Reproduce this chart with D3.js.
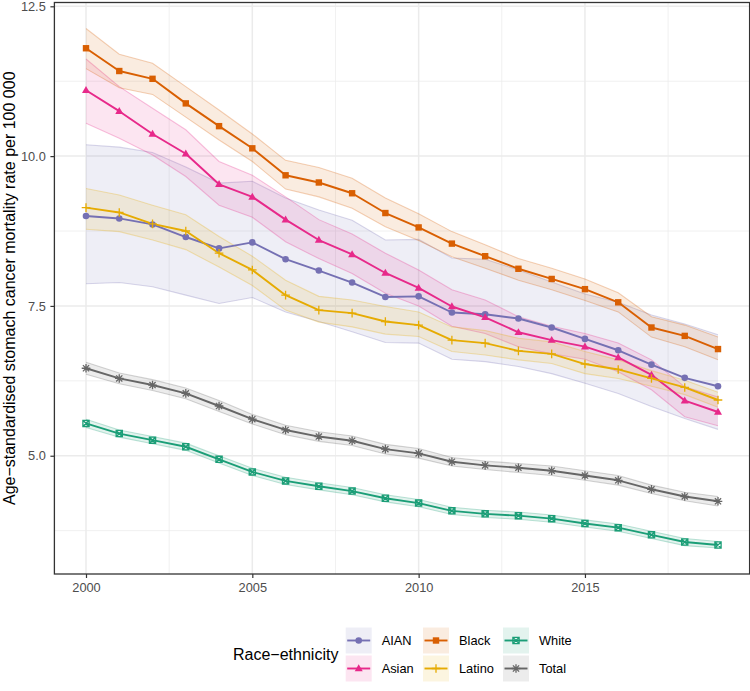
<!DOCTYPE html>
<html><head><meta charset="utf-8">
<script src="https://cdn.jsdelivr.net/npm/d3@7"></script>
<style>body{margin:0;background:#fff;} svg{display:block;font-family:"Liberation Sans",Arial,Helvetica,sans-serif;}</style>
</head><body><svg id="c" width="750" height="691"></svg>
<script>
// ---------- data ----------
const years = [2000,2001,2002,2003,2004,2005,2006,2007,2008,2009,2010,2011,2012,2013,2014,2015,2016,2017,2018,2019];
const groups = ["AIAN","Asian","Black","Latino","White","Total"];

const aian    = [9.00,8.96,8.86,8.65,8.46,8.56,8.28,8.09,7.89,7.65,7.66,7.39,7.36,7.29,7.14,6.95,6.76,6.52,6.30,6.16];
const aianLo  = [7.87,7.89,7.82,7.68,7.54,7.64,7.40,7.24,7.07,6.89,6.88,6.61,6.57,6.49,6.37,6.21,6.04,5.82,5.62,5.44];
const aianHi  = [10.19,10.15,10.06,9.82,9.55,9.58,9.30,9.10,8.93,8.60,8.61,8.30,8.28,8.10,7.90,7.70,7.56,7.35,7.20,7.02];

const asian   = [11.10,10.75,10.37,10.04,9.53,9.32,8.94,8.60,8.36,8.05,7.80,7.49,7.31,7.06,6.93,6.82,6.64,6.35,5.92,5.73];
const asianLo = [10.55,10.30,10.02,9.66,9.18,8.98,8.57,8.29,8.04,7.71,7.50,7.16,7.04,6.82,6.70,6.61,6.40,6.10,5.65,5.50];
const asianHi = [11.62,11.16,10.80,10.44,9.91,9.68,9.32,8.94,8.70,8.38,8.10,7.77,7.60,7.32,7.16,7.04,6.88,6.60,6.15,5.98];

const black   = [11.80,11.42,11.29,10.88,10.50,10.13,9.68,9.56,9.38,9.05,8.81,8.54,8.33,8.12,7.95,7.78,7.56,7.14,7.00,6.78];
const blackLo = [11.46,11.14,11.03,10.65,10.27,9.91,9.45,9.32,9.13,8.82,8.59,8.32,8.13,7.93,7.77,7.59,7.40,6.98,6.82,6.60];
const blackHi = [12.13,11.70,11.55,11.16,10.77,10.37,9.93,9.81,9.63,9.30,9.04,8.74,8.52,8.29,8.13,7.95,7.72,7.32,7.18,6.98];

const latino   = [9.14,9.06,8.87,8.75,8.38,8.10,7.68,7.43,7.38,7.24,7.18,6.93,6.88,6.75,6.70,6.53,6.44,6.29,6.14,5.93];
const latinoLo = [8.78,8.74,8.60,8.44,8.15,7.84,7.43,7.23,7.15,7.03,6.99,6.74,6.68,6.60,6.54,6.37,6.29,6.16,6.02,5.81];
const latinoHi = [9.46,9.35,9.18,9.02,8.66,8.33,7.93,7.66,7.60,7.49,7.40,7.15,7.09,6.96,6.90,6.74,6.60,6.42,6.26,6.06];

const white   = [5.54,5.37,5.26,5.15,4.94,4.73,4.58,4.49,4.41,4.29,4.21,4.08,4.03,4.00,3.95,3.87,3.80,3.68,3.56,3.51];
const whiteLo = [5.47,5.31,5.20,5.09,4.88,4.67,4.52,4.43,4.35,4.23,4.15,4.02,3.97,3.94,3.89,3.81,3.74,3.62,3.50,3.46];
const whiteHi = [5.61,5.43,5.32,5.21,5.00,4.79,4.64,4.55,4.47,4.35,4.27,4.14,4.09,4.06,4.01,3.93,3.86,3.74,3.62,3.57];

const total   = [6.46,6.29,6.18,6.04,5.83,5.61,5.43,5.32,5.25,5.11,5.04,4.90,4.84,4.80,4.75,4.67,4.59,4.44,4.32,4.24];
const totalLo = [6.36,6.20,6.09,5.95,5.74,5.53,5.35,5.24,5.17,5.03,4.96,4.83,4.77,4.72,4.67,4.59,4.51,4.37,4.25,4.16];
const totalHi = [6.56,6.38,6.27,6.13,5.92,5.69,5.51,5.40,5.33,5.19,5.12,4.97,4.91,4.87,4.83,4.75,4.67,4.51,4.39,4.32];

const xTicks = [2000,2005,2010,2015];
const xMinor = [2002.5,2007.5,2012.5,2017.5];
const yTicks = [5.0,7.5,10.0,12.5];
const yMinor = [3.75,6.25,8.75,11.25];
const yTitle = "Age\u2212standardised stomach cancer mortality rate per 100 000";
const legendTitle = "Race\u2212ethnicity";

// ---------- build table ----------
const seriesTable = {
  AIAN:[aian,aianLo,aianHi], Asian:[asian,asianLo,asianHi], Black:[black,blackLo,blackHi],
  Latino:[latino,latinoLo,latinoHi], White:[white,whiteLo,whiteHi], Total:[total,totalLo,totalHi]
};
const series = groups.map(g => ({
  name:g,
  pts: years.map((yr,i)=>({yr, v:seriesTable[g][0][i], lo:seriesTable[g][1][i], hi:seriesTable[g][2][i]}))
}));

// ---------- styles ----------
const col = {AIAN:"#7570B3", Asian:"#E7298A", Black:"#D95F02", Latino:"#E6AB02", White:"#1B9E77", Total:"#666666"};
const shape = {AIAN:"circle", Asian:"triangle", Black:"square", Latino:"plus", White:"squarex", Total:"asterisk"};

const svg = d3.select("#c");
svg.append("rect").attr("width",750).attr("height",691).attr("fill","#fff");

const P = {l:54.4, r:749.6, t:2.5, b:574};
const xr = d3.extent(years), xpad = (xr[1]-xr[0])*0.05;
const x = d3.scaleLinear().domain([xr[0]-xpad, xr[1]+xpad]).range([P.l, P.r]);
const ymin = d3.min(series, s=>d3.min(s.pts, d=>d.lo)), ymax = d3.max(series, s=>d3.max(s.pts, d=>d.hi));
const ypad = (ymax-ymin)*0.05;
const y = d3.scaleLinear().domain([ymin-ypad, ymax+ypad]).range([P.b, P.t]);

// grid
const grid = svg.append("g");
yMinor.forEach(v=>grid.append("line").attr("x1",P.l).attr("x2",P.r).attr("y1",y(v)).attr("y2",y(v)).attr("stroke","#EBEBEB").attr("stroke-width",0.75));
xMinor.forEach(v=>grid.append("line").attr("y1",P.t).attr("y2",P.b).attr("x1",x(v)).attr("x2",x(v)).attr("stroke","#EBEBEB").attr("stroke-width",0.75));
yTicks.forEach(v=>grid.append("line").attr("x1",P.l).attr("x2",P.r).attr("y1",y(v)).attr("y2",y(v)).attr("stroke","#EBEBEB").attr("stroke-width",1.5));
xTicks.forEach(v=>grid.append("line").attr("y1",P.t).attr("y2",P.b).attr("x1",x(v)).attr("x2",x(v)).attr("stroke","#EBEBEB").attr("stroke-width",1.5));

const plot = svg.append("g");
// ribbons
const area = d3.area().x(d=>x(d.yr)).y0(d=>y(d.lo)).y1(d=>y(d.hi));
const lineLo = d3.line().x(d=>x(d.yr)).y(d=>y(d.lo));
const lineHi = d3.line().x(d=>x(d.yr)).y(d=>y(d.hi));
series.forEach(s=>{
  plot.append("path").attr("d",area(s.pts)).attr("fill",col[s.name]).attr("fill-opacity",0.12).attr("stroke","none");
  plot.append("path").attr("d",lineLo(s.pts)).attr("fill","none").attr("stroke",col[s.name]).attr("stroke-opacity",0.28).attr("stroke-width",1.1);
  plot.append("path").attr("d",lineHi(s.pts)).attr("fill","none").attr("stroke",col[s.name]).attr("stroke-opacity",0.28).attr("stroke-width",1.1);
});
// lines
const line = d3.line().x(d=>x(d.yr)).y(d=>y(d.v));
series.forEach(s=>{
  plot.append("path").attr("d",line(s.pts)).attr("fill","none").attr("stroke",col[s.name]).attr("stroke-width",1.9).attr("stroke-linejoin","round");
});

function drawMarker(g, sh, c, cx, cy){
  if(sh==="circle"){
    g.append("circle").attr("cx",cx).attr("cy",cy).attr("r",3.3).attr("fill",c);
  } else if(sh==="square"){
    g.append("rect").attr("x",cx-3.2).attr("y",cy-3.2).attr("width",6.4).attr("height",6.4).attr("fill",c);
  } else if(sh==="triangle"){
    const s=8, h=s*Math.sqrt(3)/2;
    g.append("path").attr("d",`M${cx},${cy-h*0.6}L${cx+s/2},${cy+h*0.4}L${cx-s/2},${cy+h*0.4}Z`).attr("fill",c);
  } else if(sh==="plus"){
    const r=4.3;
    g.append("path").attr("d",`M${cx-r},${cy}H${cx+r}M${cx},${cy-r}V${cy+r}`).attr("stroke",c).attr("stroke-width",1.3).attr("fill","none");
  } else if(sh==="asterisk"){
    const r=4.3, d=r*0.72;
    g.append("path").attr("d",`M${cx-r},${cy}H${cx+r}M${cx},${cy-r}V${cy+r}M${cx-d},${cy-d}L${cx+d},${cy+d}M${cx-d},${cy+d}L${cx+d},${cy-d}`).attr("stroke",c).attr("stroke-width",1.3).attr("fill","none");
  } else if(sh==="squarex"){
    const r=3.1;
    g.append("path").attr("d",`M${cx-r},${cy-r}H${cx+r}V${cy+r}H${cx-r}ZM${cx-r},${cy-r}L${cx+r},${cy+r}M${cx-r},${cy+r}L${cx+r},${cy-r}`).attr("stroke",c).attr("stroke-width",1.3).attr("fill","none");
  }
}
series.forEach(s=>{
  s.pts.forEach(d=>drawMarker(plot, shape[s.name], col[s.name], x(d.yr), y(d.v)));
});

// border
svg.append("rect").attr("x",P.l).attr("y",P.t).attr("width",P.r-P.l).attr("height",P.b-P.t).attr("fill","none").attr("stroke","#333333").attr("stroke-width",1.3);

// axes
const ax = svg.append("g").attr("transform",`translate(0,${P.b})`)
  .call(d3.axisBottom(x).tickValues(xTicks).tickFormat(d3.format("d")).tickSize(4).tickPadding(4.5).tickSizeOuter(0));
const ay = svg.append("g").attr("transform",`translate(${P.l},0)`)
  .call(d3.axisLeft(y).tickValues(yTicks).tickFormat(d3.format(".1f")).tickSize(4).tickPadding(4.6).tickSizeOuter(0));
[ax,ay].forEach(a=>{
  a.select(".domain").remove();
  a.selectAll(".tick line").attr("stroke","#333333").attr("stroke-width",1.2);
  a.selectAll(".tick text").attr("fill","#4D4D4D").style("font-size","12.8px").style("font-family","'Liberation Sans',Arial,sans-serif");
});

// y title
svg.append("text").attr("transform",`translate(14.8,${(P.t+P.b)/2}) rotate(-90)`).attr("text-anchor","middle")
  .style("font-size","16px").attr("fill","#000").text(yTitle);

// legend
const lg = svg.append("g");
lg.append("text").attr("x",233).attr("y",660).style("font-size","16px").attr("fill","#000").text(legendTitle);
const colX = [345.7, 423, 503], rowY = [627.5, 655.5], kw = 26, kh = 26;
groups.forEach((g,i)=>{
  const kx = colX[Math.floor(i/2)], ky = rowY[i%2];
  lg.append("rect").attr("x",kx).attr("y",ky).attr("width",kw).attr("height",kh).attr("fill",col[g]).attr("fill-opacity",0.12);
  lg.append("line").attr("x1",kx+1.5).attr("x2",kx+kw-1.5).attr("y1",ky+kh/2).attr("y2",ky+kh/2).attr("stroke",col[g]).attr("stroke-width",1.9);
  drawMarker(lg, shape[g], col[g], kx+kw/2, ky+kh/2);
  lg.append("text").attr("x",kx+kw+10).attr("y",ky+kh/2).attr("dy","0.36em").style("font-size","12.8px").attr("fill","#000").text(g);
});
</script></body></html>
